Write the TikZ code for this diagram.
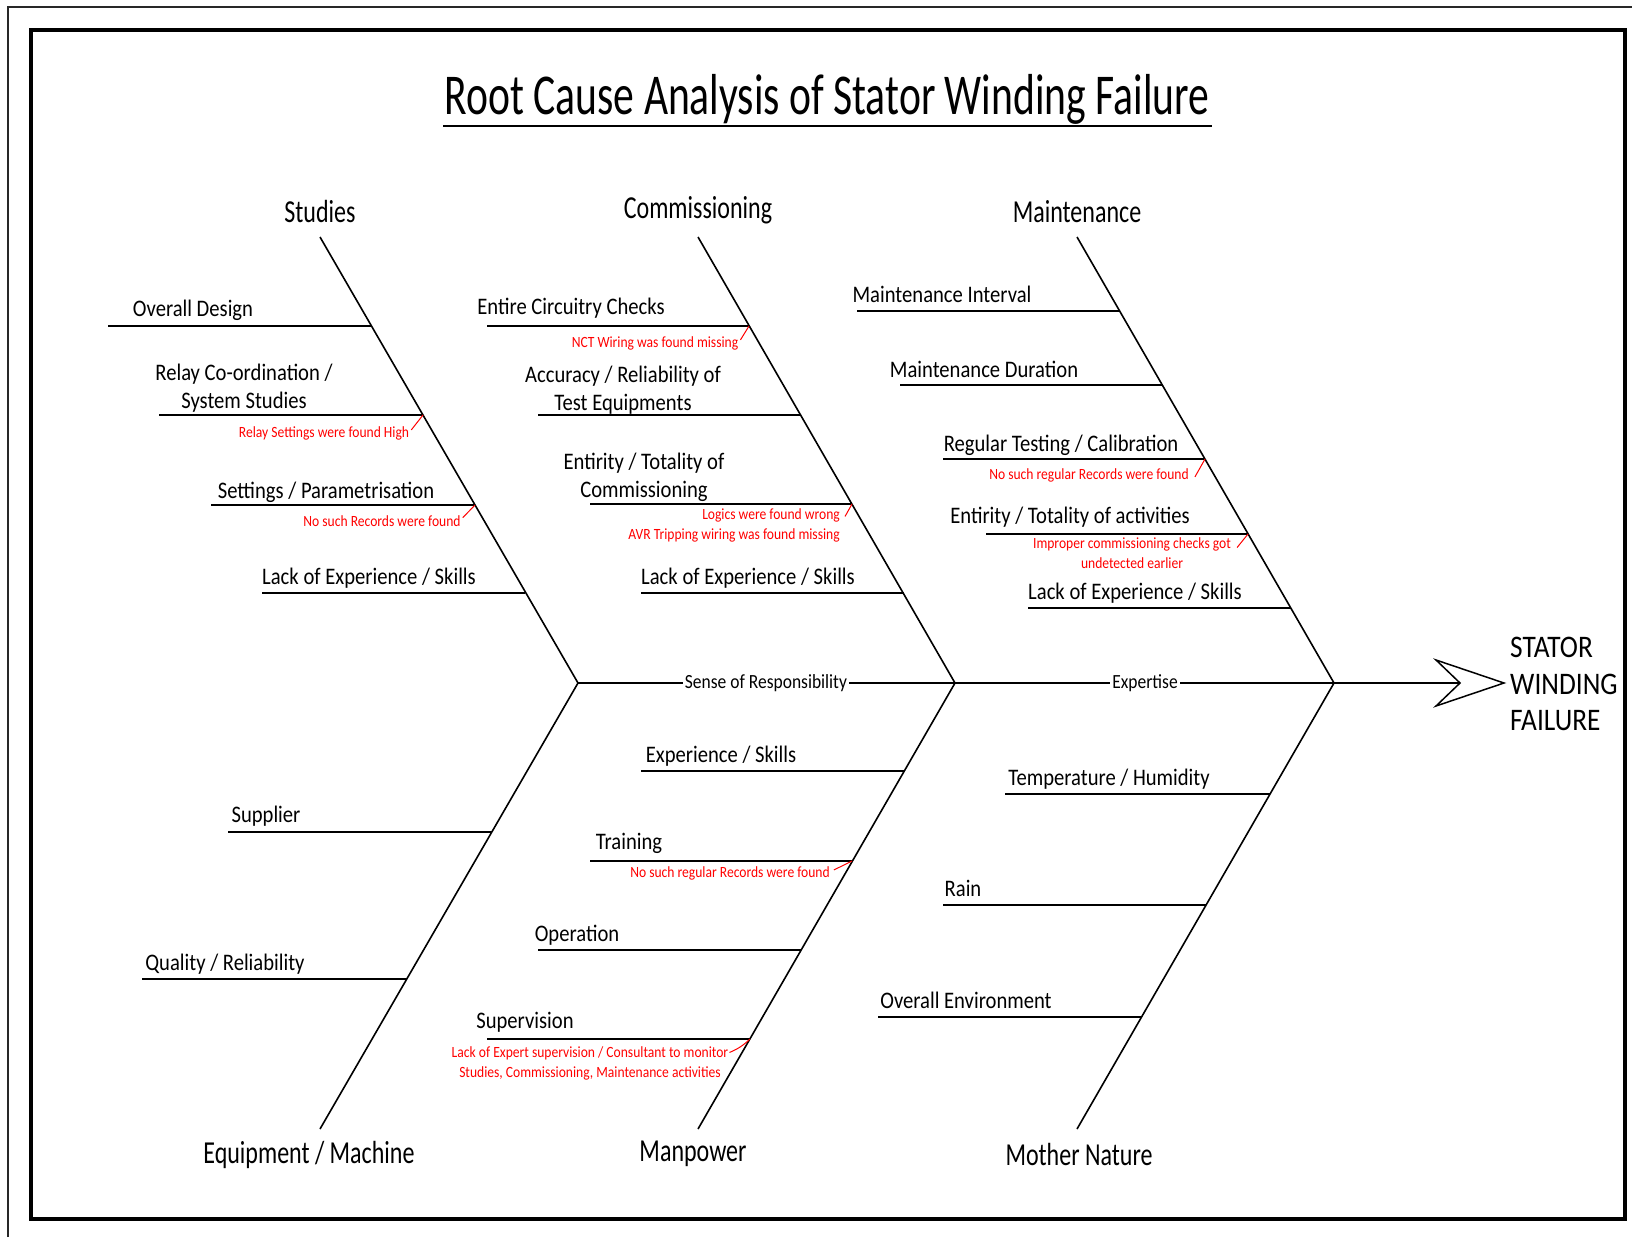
\documentclass[tikz,border=0pt]{standalone}
\usepackage{fontspec}
\setmainfont{Carlito}[FakeStretch=0.87]
\newfontfamily\headfont{Carlito}[FakeStretch=0.75]
\newfontfamily\titlefont{Carlito}[FakeStretch=0.72]
\usepackage{xcolor}
\usepackage{tikz}
\usetikzlibrary{positioning,calc}
\definecolor{notered}{RGB}{255,0,0}
\definecolor{frame}{RGB}{40,40,40}

\begin{document}
\begin{tikzpicture}[x=1pt,y=-1pt,
    bone/.style={line width=1.6pt,black},
    rib/.style={line width=2.2pt,black},
    redtick/.style={line width=1pt,notered},
    cat/.style={font=\headfont\fontsize{32}{36}\selectfont,anchor=base,inner sep=0pt},
    cause/.style={font=\fontsize{23.7}{28}\selectfont,align=center,anchor=base,inner sep=0pt},
    note/.style={font=\fontsize{15.6}{19.5}\selectfont,text=notered,align=center,anchor=base,inner sep=0pt},
    spinelbl/.style={font=\fontsize{20.1}{24}\selectfont,fill=white,inner sep=2pt}
  ]
  \useasboundingbox (0,0) rectangle (1632,1237);
  \draw[line width=2pt,frame] (8,1237) -- (8,7) -- (1632,7);
  \draw[line width=4pt] (31,30) rectangle (1625,1219);

  \node[font=\titlefont\fontsize{57.8}{60}\selectfont,anchor=base,inner sep=0pt] (title) at (827,114)
    {Root Cause Analysis of Stator Winding Failure};
  \coordinate (ulL) at (443,126);
  \coordinate (ulR) at (1212,126);
  \draw[line width=2.4pt] (ulL) -- (ulR);

  % spine and head
  \coordinate (jA) at (578,683);
  \coordinate (jB) at (955,683);
  \coordinate (jC) at (1334,683);
  \coordinate (notch) at (1460,683);
  \coordinate (tip) at (1504,683);
  \coordinate (barbT) at (1436,660);
  \coordinate (barbB) at (1436,706);
  \draw[bone,line width=2pt] (jA) -- (notch);
  \draw[line width=1.5pt,fill=white] (barbT) -- (tip) -- (barbB) -- (notch) -- cycle;
  \node[spinelbl] (sor) at (766,683) {Sense of Responsibility};
  \node[spinelbl] (exp) at (1145,683) {Expertise};
  \node[font=\fontsize{31.4}{36.5}\selectfont,align=left,anchor=west,inner sep=0pt] (swf) at (1510,684)
    {STATOR\\WINDING\\FAILURE};

  % bones
  \coordinate (studTop) at (320,237);
  \coordinate (commTop) at (698,237);
  \coordinate (maintTop) at (1077,237);
  \coordinate (equipBot) at (320,1129);
  \coordinate (manBot) at (698,1129);
  \coordinate (natBot) at (1077,1129);
  \draw[bone] (studTop) -- (jA) -- (equipBot);
  \draw[bone] (commTop) -- (jB) -- (manBot);
  \draw[bone] (maintTop) -- (jC) -- (natBot);

  \node[cat] (stud) at (320,222) {Studies};
  \node[cat] (comm) at (698,218) {Commissioning};
  \node[cat] (maint) at (1077,222) {Maintenance};
  \node[cat] (equip) at (309,1163) {Equipment / Machine};
  \node[cat] (man) at (693,1161) {Manpower};
  \node[cat] (nat) at (1079,1165) {Mother Nature};

  % Studies
  \coordinate (s1L) at (108,326);  \coordinate (s1R) at (371,326);
  \coordinate (s2L) at (159,415);  \coordinate (s2R) at (423,415);
  \coordinate (s3L) at (211,505);  \coordinate (s3R) at (475,505);
  \coordinate (s4L) at (262,593);  \coordinate (s4R) at (525,593);
  \draw[rib] (s1L) -- (s1R);
  \draw[rib] (s2L) -- (s2R);
  \draw[rib] (s3L) -- (s3R);
  \draw[rib] (s4L) -- (s4R);
  \node[cause] (s1) at (193,316) {Overall Design};
  \node[cause] (s2) at (244,408) {Relay Co-ordination /\\System Studies};
  \node[cause] (s3) at (326,498) {Settings / Parametrisation};
  \node[cause] (s4) at (369,584) {Lack of Experience / Skills};
  \node[note] (s2n) at (324,437) {Relay Settings were found High};
  \node[note] (s3n) at (382,526) {No such Records were found};
  \draw[redtick] ($(s2n.east)+(2,-3)$) -- (s2R);
  \draw[redtick] ($(s3n.east)+(2,-3)$) -- (s3R);

  % Commissioning
  \coordinate (c1L) at (487,326);  \coordinate (c1R) at (749,326);
  \coordinate (c2L) at (538,415);  \coordinate (c2R) at (801,415);
  \coordinate (c3L) at (590,504);  \coordinate (c3R) at (852,504);
  \coordinate (c4L) at (641,593);  \coordinate (c4R) at (904,593);
  \draw[rib] (c1L) -- (c1R);
  \draw[rib] (c2L) -- (c2R);
  \draw[rib] (c3L) -- (c3R);
  \draw[rib] (c4L) -- (c4R);
  \node[cause] (c1) at (571,314) {Entire Circuitry Checks};
  \node[cause] (c2) at (623,410) {Accuracy / Reliability of\\Test Equipments};
  \node[cause] (c3) at (644,497) {Entirity / Totality of\\Commissioning};
  \node[cause] (c4) at (748,584) {Lack of Experience / Skills};
  \node[note] (c1n) at (655,347) {NCT Wiring was found missing};
  \node[note,align=right,anchor=base east] (c3n) at (840,539) {Logics were found wrong\\AVR Tripping wiring was found missing};
  \draw[redtick] ($(c1n.east)+(2,-3)$) -- (c1R);
  \draw[redtick] ($(c3n.north east)+(5,8)$) -- (c3R);

  % Maintenance
  \coordinate (m1L) at (857,311);  \coordinate (m1R) at (1120,311);
  \coordinate (m2L) at (900,385);  \coordinate (m2R) at (1162,385);
  \coordinate (m3L) at (943,459);  \coordinate (m3R) at (1205,459);
  \coordinate (m4L) at (986,534);  \coordinate (m4R) at (1248,534);
  \coordinate (m5L) at (1028,608); \coordinate (m5R) at (1291,608);
  \draw[rib] (m1L) -- (m1R);
  \draw[rib] (m2L) -- (m2R);
  \draw[rib] (m3L) -- (m3R);
  \draw[rib] (m4L) -- (m4R);
  \draw[rib] (m5L) -- (m5R);
  \node[cause] (m1) at (942,302) {Maintenance Interval};
  \node[cause] (m2) at (984,377) {Maintenance Duration};
  \node[cause] (m3) at (1061,451) {Regular Testing / Calibration};
  \node[cause] (m4) at (1070,523) {Entirity / Totality of activities};
  \node[cause] (m5) at (1135,599) {Lack of Experience / Skills};
  \node[note] (m3n) at (1089,479) {No such regular Records were found};
  \node[note] (m4n) at (1132,568) {Improper commissioning checks got\\undetected earlier};
  \draw[redtick] ($(m3n.east)+(6,2)$) -- (m3R);
  \draw[redtick] ($(m4n.north east)+(6,10)$) -- (m4R);

  % Equipment / Machine
  \coordinate (e1L) at (228,832);  \coordinate (e1R) at (492,832);
  \coordinate (e2L) at (142,979);  \coordinate (e2R) at (407,979);
  \draw[rib] (e1L) -- (e1R);
  \draw[rib] (e2L) -- (e2R);
  \node[cause] (e1) at (266,822) {Supplier};
  \node[cause] (e2) at (225,970) {Quality / Reliability};

  % Manpower
  \coordinate (p1L) at (641,771);  \coordinate (p1R) at (904,771);
  \coordinate (p2L) at (590,861);  \coordinate (p2R) at (852,861);
  \coordinate (p3L) at (538,950);  \coordinate (p3R) at (801,950);
  \coordinate (p4L) at (487,1039); \coordinate (p4R) at (750,1039);
  \draw[rib] (p1L) -- (p1R);
  \draw[rib] (p2L) -- (p2R);
  \draw[rib] (p3L) -- (p3R);
  \draw[rib] (p4L) -- (p4R);
  \node[cause] (p1) at (721,762) {Experience / Skills};
  \node[cause] (p2) at (629,849) {Training};
  \node[cause] (p3) at (577,941) {Operation};
  \node[cause] (p4) at (525,1028) {Supervision};
  \node[note] (p2n) at (730,877) {No such regular Records were found};
  \node[note] (p4n) at (590,1077) {Lack of Expert supervision / Consultant to monitor\\Studies, Commissioning, Maintenance activities};
  \draw[redtick] ($(p2n.east)+(4,-3)$) -- (p2R);
  \draw[redtick] ($(p4n.north east)+(1,6)$) to[bend right=10] (p4R);

  % Mother Nature
  \coordinate (n1L) at (1005,794); \coordinate (n1R) at (1270,794);
  \coordinate (n2L) at (943,905);  \coordinate (n2R) at (1206,905);
  \coordinate (n3L) at (878,1017); \coordinate (n3R) at (1141,1017);
  \draw[rib] (n1L) -- (n1R);
  \draw[rib] (n2L) -- (n2R);
  \draw[rib] (n3L) -- (n3R);
  \node[cause] (n1) at (1109,785) {Temperature / Humidity};
  \node[cause] (n2) at (963,896) {Rain};
  \node[cause] (n3) at (966,1008) {Overall Environment};
\end{tikzpicture}
\end{document}
